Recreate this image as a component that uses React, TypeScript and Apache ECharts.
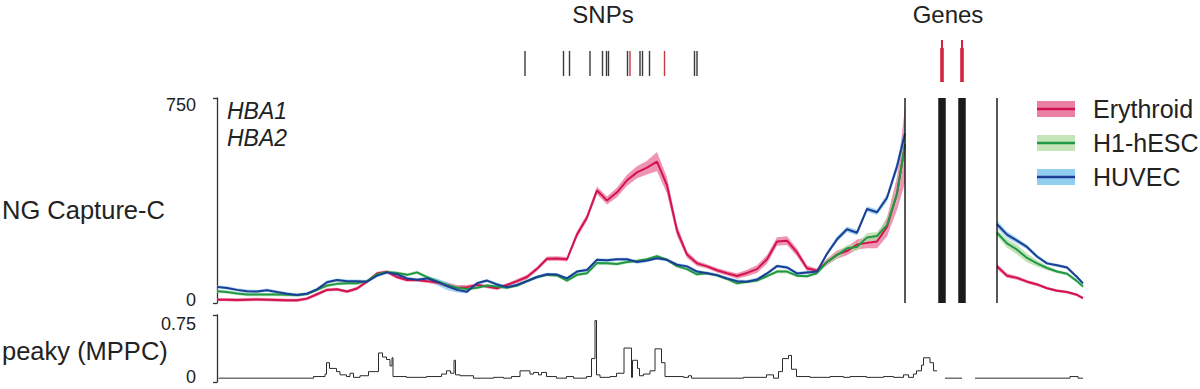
import React, { useEffect, useRef } from 'react';
import * as echarts from 'echarts';

// genomic positions (kb from left edge of the window)
const positions = [
  0, 2, 4, 6, 8, 10, 12, 14, 16, 18,
  20, 22, 24, 26, 28, 30, 32, 34, 36, 38,
  40, 42, 44, 46, 48, 50, 52, 54, 56, 58,
  60, 62, 64, 66, 68, 70, 72, 74, 76, 78,
  80, 82, 84, 86, 88, 90, 92, 94, 96, 98,
  100, 102, 104, 106, 108, 110, 112, 114, 116, 118,
  120, 122, 124, 126, 128, 130, 132, 134, 136, 137.6,
  146,
  156, 158, 160, 162, 164, 166, 168, 170, 172, 173.2,
];

const erythroid = [
  12, 12, 11, 12, 13, 12, 11, 10, 10, 16,
  32, 48, 50, 42, 53, 78, 108, 114, 95, 84,
  84, 80, 75, 66, 56, 58, 66, 60, 54, 66,
  80, 95, 125, 162, 163, 160, 251, 313, 412, 375,
  405, 449, 478, 495, 517, 430, 265, 177, 145, 134,
  120, 109, 99, 110, 124, 160, 225, 228, 185, 127,
  118, 150, 177, 190, 214, 220, 225, 278, 400, 580,
  null,
  134, 100, 92, 78, 68, 54, 45, 40, 30, 18,
];
const erythroidErr = [
  6, 6, 6, 6, 6, 6, 6, 6, 6, 6,
  6, 6, 6, 6, 6, 6, 6, 6, 6, 6,
  6, 6, 8, 10, 10, 8, 6, 6, 6, 6,
  8, 8, 8, 8, 8, 8, 12, 12, 14, 15,
  18, 20, 22, 25, 35, 30, 20, 12, 10, 8,
  8, 8, 10, 12, 14, 16, 16, 16, 14, 10,
  8, 12, 15, 15, 18, 20, 25, 35, 60, 140,
  null,
  10, 8, 7, 6, 6, 5, 5, 5, 5, 5,
];

const h1hesc = [
  43, 40, 35, 31, 31, 31, 31, 30, 29, 33,
  48, 64, 70, 72, 72, 80, 105, 113, 110, 103,
  112, 95, 80, 66, 56, 51, 56, 64, 60, 56,
  64, 80, 95, 103, 101, 82, 103, 109, 146, 145,
  143, 150, 154, 160, 171, 158, 135, 124, 105, 109,
  101, 88, 72, 78, 82, 98, 115, 115, 100, 98,
  110, 150, 175, 200, 205, 240, 245, 285, 400, 580,
  null,
  257, 218, 195, 165, 145, 128, 115, 107, 80, 60,
];
const h1hescErr = [
  6, 6, 6, 6, 6, 6, 6, 6, 6, 6,
  6, 6, 6, 6, 6, 6, 6, 6, 6, 6,
  6, 6, 6, 6, 6, 6, 6, 6, 6, 6,
  6, 6, 6, 6, 6, 6, 6, 6, 6, 6,
  6, 6, 6, 6, 6, 6, 6, 6, 6, 6,
  6, 6, 6, 6, 6, 6, 7, 7, 6, 6,
  8, 10, 12, 12, 14, 15, 15, 18, 25, 45,
  null,
  12, 16, 18, 16, 12, 8, 6, 6, 6, 6,
];

const huvec = [
  59, 55, 48, 43, 42, 47, 40, 34, 29, 34,
  50, 76, 84, 80, 80, 78, 100, 112, 105, 90,
  85, 90, 78, 62, 48, 41, 72, 82, 68, 58,
  66, 80, 95, 105, 104, 90, 115, 121, 158, 156,
  160, 160, 150, 155, 164, 158, 140, 134, 115, 109,
  102, 90, 80, 78, 86, 108, 135, 130, 108, 112,
  115, 180, 233, 270, 257, 344, 332, 385, 500, 620,
  null,
  288, 250, 228, 205, 170, 145, 138, 130, 95, 72,
];
const huvecErr = [
  6, 6, 6, 6, 6, 6, 6, 6, 6, 6,
  6, 6, 6, 6, 6, 6, 6, 6, 6, 6,
  6, 6, 12, 14, 10, 6, 6, 6, 6, 6,
  6, 6, 6, 6, 6, 6, 6, 6, 6, 6,
  6, 6, 6, 6, 6, 6, 6, 6, 6, 6,
  6, 6, 6, 6, 6, 6, 6, 6, 6, 6,
  6, 8, 10, 10, 10, 10, 10, 14, 18, 30,
  null,
  14, 12, 10, 8, 7, 6, 6, 6, 6, 6,
];

// peaky (MPPC) step track: level starting at each position
const peakyPos = [
  0.3, 19.3, 21.6, 21.9, 22.5, 23.9, 24.6, 25.9, 26.6, 27.3,
  28.6, 30.3, 32.3, 33.1, 33.9, 34.6, 35.0, 35.2, 37.9, 41.9,
  44.9, 45.9, 46.7, 47.4, 47.7, 48.6, 51.3, 55.3, 57.3, 58.9,
  60.6, 62.6, 63.3, 64.3, 64.9, 65.9, 67.9, 69.9, 71.3, 73.9,
  74.9, 75.6, 75.9, 76.6, 78.6, 79.9, 81.4, 82.9, 83.1, 84.1,
  84.5, 85.3, 86.6, 87.6, 88.9, 89.6, 93.3, 94.3, 94.9, 105.3,
  109.9, 111.3, 112.3, 113.1, 114.3, 114.9, 115.9, 118.6, 122.6, 125.3,
  126.6, 129.9, 133.3, 135.3, 137.3, 138.3, 139.3, 139.9, 140.9, 141.3,
  142.6, 143.3, 143.6, 144.0, 145.6, 147.0, 149.0, 151.6, 170.6, 172.2,
  173.2,
];
const peakyVal = [
  0.043, 0.061, 0.089, 0.216, 0.152, 0.116, 0.08, 0.061, 0.098, 0.052,
  0.07, 0.116, 0.325, 0.28, 0.252, 0.18, 0.271, 0.061, 0.052, 0.061,
  0.089, 0.125, 0.098, 0.243, 0.08, 0.07, 0.043, 0.052, 0.043, 0.061,
  0.125, 0.089, 0.107, 0.08, 0.107, 0.061, 0.043, 0.061, 0.043, 0.061,
  0.262, 0.689, 0.08, 0.052, 0.061, 0.098, 0.38, 0.052, 0.243, 0.152,
  0.07, 0.089, 0.125, 0.371, 0.216, 0.061, 0.052, 0.07, 0.043, 0.052,
  0.08, 0.043, 0.116, 0.262, 0.298, 0.143, 0.061, 0.052, 0.061, 0.052,
  0.061, 0.052, 0.061, 0.052, 0.08, 0.052, 0.089, 0.125, 0.189, 0.271,
  0.216, 0.125, 0.125, null, 0.043, 0.043, null, 0.043, 0.061, 0.043,
  0.043,
];

// SNP positions (kb); 1 marks the red (highlighted) SNPs
const snpPos = [61.6, 69.3, 70.5, 74.6, 77.1, 77.9, 78.3, 82.1, 82.6, 84.6, 85.1, 86.5, 89.5, 95.5, 96.0];
const snpRed = [0, 0, 0, 0, 0, 0, 0, 0, 1, 0, 0, 0, 1, 0, 0];
// genes HBA1 / HBA2 (capture viewpoints)
const genePos = [145.0, 149.0];
// boundaries of the excluded region around the viewpoints
const excludedBounds = [137.6, 156.0];

const xMax = 173.2;
const mainMax = 750;
const peakyMax = 0.75;

const cellTypes = [
  { name: 'Erythroid', values: erythroid, err: erythroidErr, line: '#d3134d', band: 'rgba(231,108,150,0.72)', swatch: '#ea80a6' },
  { name: 'H1-hESC', values: h1hesc, err: h1hescErr, line: '#1f9847', band: 'rgba(176,219,160,0.75)', swatch: '#c5e5b9' },
  { name: 'HUVEC', values: huvec, err: huvecErr, line: '#1d3d92', band: 'rgba(120,195,238,0.7)', swatch: '#92cef0' },
];

const FONT = 'Liberation Sans, Arial, Helvetica, sans-serif';

// split the arrays into contiguous runs (break at null)
function runs(values: (number | null)[]) {
  const out: number[][] = [];
  let cur: number[] = [];
  values.forEach((v, j) => {
    if (v == null) {
      if (cur.length) out.push(cur);
      cur = [];
    } else cur.push(j);
  });
  if (cur.length) out.push(cur);
  return out;
}

function buildOption() {
  const series: any[] = [];
  // confidence bands drawn as polygons via the axis scales
  cellTypes.forEach((c) => {
    series.push({
      type: 'custom', xAxisIndex: 0, yAxisIndex: 0, z: 1, silent: true, clip: true,
      data: positions.map((p, j) => [p, c.values[j] == null ? 0 : (c.values[j] as number)]),
      renderItem: (params: any, api: any) => {
        if (params.dataIndex !== 0) return null;
        const children = runs(c.values).map((idx) => {
          const upper = idx.map((j) => api.coord([positions[j], Math.min(mainMax, (c.values[j] as number) + (c.err[j] as number))]));
          const lower = idx.slice().reverse().map((j) => api.coord([positions[j], Math.max(0, (c.values[j] as number) - (c.err[j] as number))]));
          return { type: 'polygon', shape: { points: upper.concat(lower) }, style: { fill: c.band } };
        });
        return { type: 'group', children };
      },
    });
  });
  cellTypes.forEach((c) => {
    series.push({
      type: 'line', name: c.name, xAxisIndex: 0, yAxisIndex: 0, symbol: 'none', z: 3,
      lineStyle: { color: c.line, width: 2 },
      data: positions.map((p, j) => [p, c.values[j] == null ? '-' : c.values[j]]),
    });
  });
  // excluded region boundaries
  series.push({
    type: 'custom', xAxisIndex: 0, yAxisIndex: 0, z: 4,
    data: excludedBounds.map((p) => [p, 0]),
    renderItem: (_params: any, api: any) => {
      const t = api.coord([api.value(0), mainMax]);
      const b = api.coord([api.value(0), 0]);
      return { type: 'rect', shape: { x: t[0] - 0.7, y: t[1], width: 1.4, height: b[1] - t[1] }, style: { fill: '#111' } };
    },
  });
  // viewpoint bars
  series.push({
    type: 'custom', xAxisIndex: 0, yAxisIndex: 0, z: 4,
    data: genePos.map((p) => [p, 0]),
    renderItem: (_params: any, api: any) => {
      const l = api.coord([api.value(0) - 0.75, mainMax]);
      const r = api.coord([api.value(0) + 0.75, 0]);
      return { type: 'rect', shape: { x: l[0], y: l[1], width: r[0] - l[0], height: r[1] - l[1] }, style: { fill: '#1b1b1b' } };
    },
  });
  // peaky
  series.push({
    type: 'line', xAxisIndex: 1, yAxisIndex: 1, step: 'end', symbol: 'none', z: 3,
    lineStyle: { color: '#2b2b2b', width: 1 },
    data: peakyPos.map((p, j) => [p, peakyVal[j] == null ? '-' : peakyVal[j]]),
  });
  // SNPs
  series.push({
    type: 'custom', xAxisIndex: 2, yAxisIndex: 2,
    data: snpPos.map((p, i) => [p, snpRed[i]]),
    renderItem: (_params: any, api: any) => {
      const t = api.coord([api.value(0), 0.74]);
      const b = api.coord([api.value(0), 0.14]);
      return {
        type: 'rect', shape: { x: t[0] - 0.7, y: t[1], width: 1.4, height: b[1] - t[1] },
        style: { fill: api.value(1) ? '#c33a45' : '#3a3a3a' },
      };
    },
  });
  // genes
  series.push({
    type: 'custom', xAxisIndex: 2, yAxisIndex: 2,
    data: genePos.map((p) => [p, 0]),
    renderItem: (_params: any, api: any) => {
      const t = api.coord([api.value(0), 1]);
      const m = api.coord([api.value(0), 0.81]);
      const b = api.coord([api.value(0), 0]);
      return {
        type: 'group',
        children: [
          { type: 'rect', shape: { x: t[0] - 1, y: t[1], width: 2, height: b[1] - t[1] }, style: { fill: '#d2243f' } },
          { type: 'rect', shape: { x: m[0] - 1.8, y: m[1], width: 3.6, height: b[1] - m[1] }, style: { fill: '#d2243f' } },
        ],
      };
    },
  });

  const legendGraphics: any[] = [];
  const legendY = [109, 143, 177];
  cellTypes.forEach((c, i) => {
    const cy = legendY[i];
    legendGraphics.push({ type: 'rect', shape: { x: 1037, y: cy - 8, width: 38, height: 16 }, style: { fill: c.swatch } });
    legendGraphics.push({ type: 'line', shape: { x1: 1037, y1: cy, x2: 1075, y2: cy }, style: { stroke: c.line, lineWidth: 2.5 } });
    legendGraphics.push({ type: 'text', x: 1093, y: cy, style: { text: c.name, font: `25px ${FONT}`, fill: '#222', textVerticalAlign: 'middle', verticalAlign: 'middle' } });
  });

  const axisCommon = (gridIndex: number, max: number, hiPad: number, loPad: number) => ({
    type: 'value', gridIndex, min: 0, max, interval: max, offset: 9,
    axisLine: { show: true, lineStyle: { color: '#333', width: 1.3 } },
    axisTick: { show: true, length: 4, lineStyle: { color: '#333', width: 1.3 } },
    splitLine: { show: false },
    axisLabel: {
      margin: 12, color: '#222', fontFamily: FONT, fontSize: 18,
      formatter: (v: number) => (v === 0 ? '{lo|0}' : `{hi|${v}}`),
      rich: {
        hi: { fontSize: 18, fontFamily: FONT, color: '#222', padding: [hiPad, 0, 0, 0] },
        lo: { fontSize: 18, fontFamily: FONT, color: '#222', padding: [0, 0, loPad, 0] },
      },
    },
  });

  return {
    animation: false,
    backgroundColor: '#fff',
    grid: [
      { left: 217, right: 117, top: 98, height: 205 },
      { left: 217, right: 117, top: 315, height: 67 },
      { left: 217, right: 117, top: 40, height: 42 },
    ],
    xAxis: [0, 1, 2].map((g) => ({ type: 'value', gridIndex: g, min: 0, max: xMax, show: false })),
    yAxis: [
      axisCommon(0, mainMax, 14, 6),
      axisCommon(1, peakyMax, 18, 10),
      { type: 'value', gridIndex: 2, min: 0, max: 1, show: false },
    ],
    graphic: [
      { type: 'text', x: 603, y: 14, style: { text: 'SNPs', font: `24px ${FONT}`, fill: '#222', textAlign: 'center', align: 'center', textVerticalAlign: 'middle', verticalAlign: 'middle' } },
      { type: 'text', x: 948, y: 14, style: { text: 'Genes', font: `24px ${FONT}`, fill: '#222', textAlign: 'center', align: 'center', textVerticalAlign: 'middle', verticalAlign: 'middle' } },
      { type: 'text', x: 2, y: 210, style: { text: 'NG Capture-C', font: `25.5px ${FONT}`, fill: '#222', textVerticalAlign: 'middle', verticalAlign: 'middle' } },
      { type: 'text', x: 2, y: 351, style: { text: 'peaky (MPPC)', font: `25.5px ${FONT}`, fill: '#222', textVerticalAlign: 'middle', verticalAlign: 'middle' } },
      { type: 'text', x: 227, y: 111, style: { text: 'HBA1', font: `italic 23px ${FONT}`, fill: '#222', textVerticalAlign: 'middle', verticalAlign: 'middle' } },
      { type: 'text', x: 227, y: 138, style: { text: 'HBA2', font: `italic 23px ${FONT}`, fill: '#222', textVerticalAlign: 'middle', verticalAlign: 'middle' } },
      ...legendGraphics,
    ],
    series,
  };
}

export default function App() {
  const ref = useRef<HTMLDivElement>(null);
  useEffect(() => {
    if (!ref.current) return;
    const chart = echarts.init(ref.current, undefined, { renderer: 'svg' });
    chart.setOption(buildOption() as any);
    return () => chart.dispose();
  }, []);
  return <div ref={ref} style={{ position: 'absolute', left: 0, top: 0, width: 1200, height: 389, background: '#fff' }} />;
}
